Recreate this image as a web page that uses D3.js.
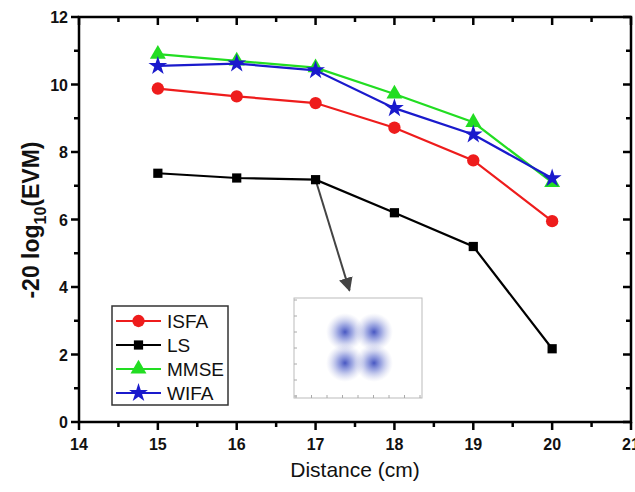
<!DOCTYPE html>
<html><head><meta charset="utf-8">
<script src="https://cdn.jsdelivr.net/npm/d3@7"></script>
<style>body{margin:0;background:#fff;} svg{display:block;font-family:Arial,"Liberation Sans",sans-serif;}</style>
</head><body>
<svg id="c" width="635" height="492"></svg>
<script>
const distances = [15, 16, 17, 18, 19, 20];
const isfa = [9.88, 9.65, 9.45, 8.72, 7.75, 5.95];
const ls = [7.37, 7.23, 7.18, 6.2, 5.2, 2.17];
const mmse = [10.9, 10.7, 10.5, 9.72, 8.88, 7.1];
const wifa = [10.55, 10.62, 10.42, 9.3, 8.52, 7.22];
const seriesNames = ["ISFA", "LS", "MMSE", "WIFA"];
const xTicks = [14, 15, 16, 17, 18, 19, 20, 21];
const yTicks = [0, 2, 4, 6, 8, 10, 12];

const series = [
  {name: "ISFA", vals: isfa, color: "#ee1c1c", sym: d3.symbolCircle, size: 120},
  {name: "LS", vals: ls, color: "#000000", sym: d3.symbolSquare, size: 85},
  {name: "MMSE", vals: mmse, color: "#22dd22", sym: d3.symbolTriangle, size: 110},
  {name: "WIFA", vals: wifa, color: "#1a1acc", sym: d3.symbolStar, size: 110}
];

const svg = d3.select("#c");
const L = 79, R = 631, T = 17, B = 422;
const x = d3.scaleLinear().domain([14, 21]).range([L, R]);
const y = d3.scaleLinear().domain([0, 12]).range([B, T]);

const minorX = d3.range(14, 21.01, 0.5);
const minorY = d3.range(0, 12.01, 1);
function isMajorX(v){return Math.abs(v-Math.round(v))<1e-6;}
function isMajorY(v){return Math.round(v)%2===0;}

const ax = svg.append("g").attr("stroke", "#000").attr("stroke-width", 2.5);
ax.append("rect").attr("x", L).attr("y", T).attr("width", R-L).attr("height", B-T).attr("fill", "none");
minorX.forEach(v => {
  const len = isMajorX(v) ? 8 : 5;
  ax.append("line").attr("x1", x(v)).attr("x2", x(v)).attr("y1", B).attr("y2", B+len);
  ax.append("line").attr("x1", x(v)).attr("x2", x(v)).attr("y1", T).attr("y2", T+len);
});
minorY.forEach(v => {
  const len = isMajorY(v) ? 8 : 5;
  ax.append("line").attr("x1", L-len).attr("x2", L).attr("y1", y(v)).attr("y2", y(v));
  ax.append("line").attr("x1", R-len).attr("x2", R).attr("y1", y(v)).attr("y2", y(v));
});

svg.append("g").selectAll("text").data(xTicks).join("text")
  .attr("x", d => x(d)).attr("y", B+28).attr("text-anchor", "middle")
  .attr("font-size", 16).attr("font-weight", "bold").attr("fill", "#111").text(d => d);
svg.append("g").selectAll("text").data(yTicks).join("text")
  .attr("x", L-11).attr("y", d => y(d)+6).attr("text-anchor", "end")
  .attr("font-size", 16).attr("font-weight", "bold").attr("fill", "#111").text(d => d);

svg.append("text").attr("x", 355).attr("y", 477).attr("text-anchor", "middle")
  .attr("font-size", 21).attr("fill", "#111").text("Distance (cm)");
const yt = svg.append("text").attr("transform", "translate(39,220) rotate(-90)")
  .attr("text-anchor", "middle").attr("font-size", 23).attr("font-weight", "bold").attr("fill", "#111");
yt.append("tspan").text("-20 log");
yt.append("tspan").attr("font-size", 16).attr("dy", 7).text("10");
yt.append("tspan").attr("dy", -7).text("(EVM)");

const defs = svg.append("defs");
defs.append("marker").attr("id", "ah").attr("viewBox", "0 0 10 10").attr("refX", 9).attr("refY", 5)
  .attr("markerWidth", 7).attr("markerHeight", 7).attr("orient", "auto")
  .append("path").attr("d", "M0,0 L10,5 L0,10 Z").attr("fill", "#444");
svg.append("line").attr("x1", x(17)).attr("y1", y(ls[2])).attr("x2", x(17.43)).attr("y2", y(3.9))
  .attr("stroke", "#444").attr("stroke-width", 2).attr("marker-end", "url(#ah)");

const line = d3.line().x((d,i) => x(distances[i])).y(d => y(d));
series.forEach(s => {
  svg.append("path").attr("d", line(s.vals)).attr("fill", "none").attr("stroke", s.color).attr("stroke-width", 2.2);
  svg.append("g").selectAll("path").data(s.vals).join("path")
    .attr("transform", (d,i) => `translate(${x(distances[i])},${y(d)})`)
    .attr("d", d3.symbol().type(s.sym).size(s.size)).attr("fill", s.color);
});

const lg = svg.append("g").attr("transform", "translate(112,306)");
lg.append("rect").attr("width", 116).attr("height", 99).attr("fill", "#fff").attr("stroke", "#333").attr("stroke-width", 1.5);
series.forEach((s, i) => {
  const yy = 15 + i*24;
  lg.append("line").attr("x1", 4).attr("x2", 49).attr("y1", yy).attr("y2", yy).attr("stroke", s.color).attr("stroke-width", 2.2);
  lg.append("path").attr("transform", `translate(26.5,${yy})`).attr("d", d3.symbol().type(s.sym).size(s.size)).attr("fill", s.color);
  lg.append("text").attr("x", 55).attr("y", yy+7).attr("font-size", 19).attr("fill", "#111").text(s.name);
});

const ins = svg.append("g").attr("transform", "translate(294,298)");
ins.append("rect").attr("width", 128).attr("height", 100).attr("fill", "#fff").attr("stroke", "#bbb").attr("stroke-width", 1);
const rg = defs.append("radialGradient").attr("id", "blob");
rg.append("stop").attr("offset", "0%").attr("stop-color", "#3344bb").attr("stop-opacity", 0.9);
rg.append("stop").attr("offset", "40%").attr("stop-color", "#5566cc").attr("stop-opacity", 0.55);
rg.append("stop").attr("offset", "100%").attr("stop-color", "#aab0dd").attr("stop-opacity", 0);
const centers = [[51,34],[80,34],[51,65],[80,65]];
centers.forEach(c => {
  ins.append("circle").attr("cx", c[0]).attr("cy", c[1]).attr("r", 19).attr("fill", "url(#blob)");
});
for (let k = 0; k <= 8; k++) {
  ins.append("line").attr("x1", 2 + k*15.5).attr("x2", 2 + k*15.5).attr("y1", 100).attr("y2", 97).attr("stroke", "#aaa");
}
for (let k = 0; k <= 6; k++) {
  ins.append("line").attr("x1", 0).attr("x2", 3).attr("y1", 2 + k*16).attr("y2", 2 + k*16).attr("stroke", "#aaa");
}
</script>
</body></html>
